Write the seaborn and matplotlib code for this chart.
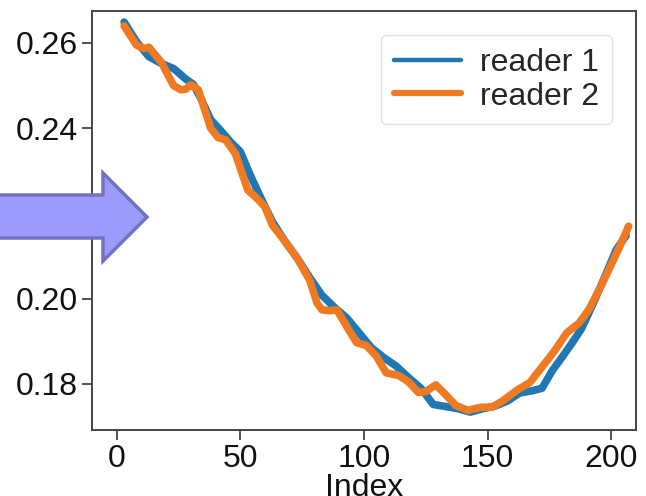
import numpy as np
import pandas as pd
import matplotlib
matplotlib.use("Agg")
import matplotlib.pyplot as plt
import seaborn as sns
from matplotlib.patches import Polygon
from matplotlib.lines import Line2D

# ---- data ----
x_reader1 = [3, 8, 13, 18, 23, 28, 31, 34, 38, 42, 46, 50, 54, 58, 63, 68, 73, 78, 83, 88,
             93, 98, 103, 108, 113, 118, 123, 128, 133, 138, 143, 148, 153, 158, 163, 168,
             172, 176, 180, 184, 188, 193, 198, 202, 206]
reader1 = [0.2649, 0.2603, 0.2568, 0.2552, 0.2540, 0.2515, 0.2503, 0.2470, 0.2420, 0.2395,
           0.2368, 0.2345, 0.2290, 0.2240, 0.2180, 0.2135, 0.2095, 0.2050, 0.2008, 0.1980,
           0.1955, 0.1920, 0.1885, 0.1862, 0.1842, 0.1815, 0.1790, 0.1752, 0.1747, 0.1742,
           0.1734, 0.1742, 0.1748, 0.1760, 0.1779, 0.1784, 0.1790, 0.1830, 0.1862, 0.1895,
           0.1930, 0.1993, 0.2060, 0.2115, 0.2148]

x_reader2 = [3, 8, 11, 13, 18, 23, 26, 28, 30, 33, 38, 41, 44, 48, 53, 57, 60, 63, 68, 73,
             78, 81, 83, 86, 89, 93, 97, 101, 105, 109, 114, 118, 122, 125, 129, 133, 137,
             142, 147, 152, 156, 162, 167, 172, 177, 182, 187, 191, 195, 200, 204, 207]
reader2 = [0.2640, 0.2595, 0.2587, 0.2590, 0.2555, 0.2500, 0.2490, 0.2492, 0.2502, 0.2490,
           0.2400, 0.2378, 0.2373, 0.2340, 0.2255, 0.2234, 0.2215, 0.2172, 0.2135, 0.2095,
           0.2044, 0.1990, 0.1974, 0.1972, 0.1974, 0.1935, 0.1897, 0.1890, 0.1865, 0.1826,
           0.1820, 0.1805, 0.1780, 0.1782, 0.1798, 0.1775, 0.1750, 0.1738, 0.1745, 0.1746,
           0.1760, 0.1786, 0.1803, 0.1840, 0.1877, 0.1920, 0.1943, 0.1975, 0.2020, 0.2080,
           0.2130, 0.2170]

series_names = ["reader 1", "reader 2"]
x_ticks = [0, 50, 100, 150, 200]
y_ticks = [0.18, 0.20, 0.22, 0.24, 0.26]
colors = ["#1f77b4", "#f07a22"]

df = pd.concat([
    pd.DataFrame({"Index": x_reader1, "value": reader1, "series": series_names[0]}),
    pd.DataFrame({"Index": x_reader2, "value": reader2, "series": series_names[1]}),
], ignore_index=True)

sns.set_theme(style="ticks")
plt.rcParams["font.family"] = ["Liberation Sans", "DejaVu Sans"]

W, H = 646, 496
fig = plt.figure(figsize=(W / 100, H / 100), dpi=100)
ax = fig.add_axes([92 / W, 1 - 430 / H, (636 - 92) / W, (430 - 11) / H])

sns.lineplot(data=df, x="Index", y="value", hue="series", palette=colors,
             linewidth=5.5, ax=ax, legend=False, estimator=None)
for ln in ax.get_lines():
    ln.set_solid_joinstyle("round")
    ln.set_solid_capstyle("round")

ax.set_xlim(-10, 210)
ax.set_ylim(0.1692, 0.2675)
ax.set_xticks(x_ticks)
ax.set_yticks(y_ticks)
ax.set_yticklabels([f"{v:.2f}" for v in y_ticks])
ax.tick_params(axis="both", labelsize=23, length=7, width=1.3, color="#444444",
               labelcolor="#111111", pad=3)
for s in ax.spines.values():
    s.set_color("#444444")
    s.set_linewidth(1.4)
ax.set_xlabel("Index", fontsize=23, labelpad=-1, color="#111111")
ax.set_ylabel("")

handles = [Line2D([], [], color=colors[0], lw=3.2),
           Line2D([], [], color=colors[1], lw=4.5)]
leg = ax.legend(handles, series_names, loc="upper right", fontsize=23,
                frameon=True, handlelength=2.1, handletextpad=0.6,
                borderaxespad=0.75, borderpad=0.4, labelspacing=0.12)
leg.get_frame().set_edgecolor("#dddddd")
leg.get_frame().set_linewidth(1.0)

# overlay arrow (annotation drawn over the left side of the figure)
def px(x, y):
    return (x / W, 1 - y / H)

arrow_pts = [px(-5, 195), px(103, 195), px(103, 173), px(147, 217),
             px(103, 261), px(103, 238), px(-5, 238)]
arrow = Polygon(arrow_pts, closed=True, transform=fig.transFigure,
                facecolor="#9b9bfb", edgecolor="#7272c4", linewidth=2.5,
                zorder=10)
fig.patches.append(arrow)

fig.savefig("out.png", dpi=100)
